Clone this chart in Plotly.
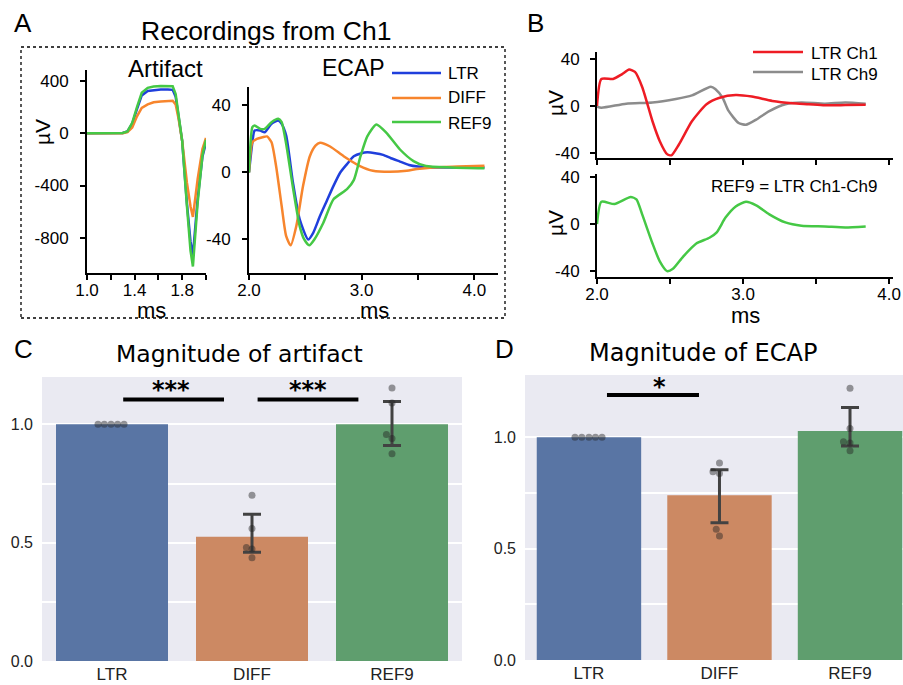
import plotly.graph_objects as go

W, H = 903, 685

# ---------------- DATA ----------------
# Panel A - artifact (ms, uV)
t_art = [1.00, 1.20, 1.30, 1.34, 1.38, 1.42, 1.46, 1.51, 1.56, 1.62, 1.68, 1.72, 1.745, 1.77, 1.80, 1.84, 1.87, 1.89, 1.93, 1.97, 2.00]
art_ltr = [0, 0, 2, 14, 75, 185, 290, 325, 332, 335, 336, 333, 280, 140, -60, -540, -830, -935, -500, -180, -70]
art_diff = [0, 0, 1, 10, 45, 130, 195, 222, 238, 244, 248, 250, 220, 110, -60, -380, -560, -640, -350, -120, -36]
art_ref9 = [0, 0, 2, 15, 80, 200, 310, 348, 358, 362, 363, 360, 300, 150, -60, -560, -900, -1020, -530, -170, -50]

# Panel A - ECAP (ms, uV)
t_ltr = [2.00, 2.03, 2.05, 2.10, 2.14, 2.20, 2.26, 2.29, 2.33, 2.39, 2.45, 2.525, 2.57, 2.63, 2.69, 2.75, 2.81, 2.87, 2.93, 3.00, 3.05, 3.12, 3.19, 3.26, 3.34, 3.42, 3.50, 3.60, 3.80, 4.09]
ecap_ltr = [0, 18, 25, 25, 24, 29, 31, 29, 22, -6, -28, -40, -36, -26, -17, -8, 0, 5, 9.7, 11.5, 12, 11.5, 10.5, 8.5, 6.5, 4.5, 3.5, 3, 3, 3]
t_diff = [2.00, 2.03, 2.07, 2.12, 2.16, 2.20, 2.24, 2.29, 2.33, 2.37, 2.42, 2.48, 2.54, 2.59, 2.63, 2.72, 2.84, 2.98, 3.10, 3.25, 3.40, 3.49, 3.63, 3.85, 4.09]
ecap_diff = [0, 18, 20, 21, 21.5, 18, 4, -20, -38, -43.5, -32, -8, 9.7, 16, 17.7, 15.5, 9.7, 4, 1, 0.4, 1, 2, 3, 3.5, 4]
t_ref9 = [2.00, 2.03, 2.05, 2.10, 2.14, 2.20, 2.26, 2.29, 2.33, 2.39, 2.45, 2.49, 2.535, 2.58, 2.66, 2.75, 2.87, 2.93, 2.99, 3.05, 3.13, 3.22, 3.34, 3.46, 3.57, 3.80, 4.09]
ecap_ref9 = [0, 27, 28, 26, 26, 30, 32, 30, 17, -9, -32, -40, -43.5, -40, -30, -16, -10, -4.6, 9.7, 21.5, 28.6, 23.6, 13.7, 6.8, 3.8, 3, 2.5]

# Panel B (ms, uV)
t_ch1 = [2.00, 2.03, 2.11, 2.17, 2.22, 2.26, 2.31, 2.38, 2.43, 2.48, 2.51, 2.56, 2.65, 2.75, 2.84, 2.95, 3.06, 3.20, 3.34, 3.45, 3.56, 3.70, 3.84]
ltr_ch1 = [0, 23, 23, 27, 31, 29, 16, -13, -30, -41, -42, -33, -13, 1.5, 7, 9.3, 8, 4.3, 2.3, 1.5, 0.6, 0.8, 1]
t_ch9 = [2.00, 2.03, 2.20, 2.38, 2.54, 2.65, 2.78, 2.81, 2.86, 2.90, 2.97, 3.02, 3.09, 3.18, 3.29, 3.40, 3.56, 3.70, 3.84]
ltr_ch9 = [-0.5, -1.5, 2, 3, 6, 9, 16.5, 14.5, 7, -4, -14.5, -16, -11.6, -4.3, 1.5, 3, 2, 3, 2]
t_ref = [2.00, 2.03, 2.12, 2.23, 2.27, 2.31, 2.38, 2.43, 2.48, 2.52, 2.59, 2.68, 2.77, 2.82, 2.88, 2.95, 3.02, 3.09, 3.18, 3.29, 3.40, 3.56, 3.70, 3.84]
ref9_b = [0, 19, 17, 23, 21, 8, -16.5, -31.7, -40, -38, -27.6, -16.5, -11.6, -7, 5.5, 15, 19, 16, 8.3, 1.4, -1.4, -2, -2.8, -2]

# Panels C/D - bar summaries
categories = ["LTR", "DIFF", "REF9"]
art_mean = [1.0, 0.525, 1.0]
art_ci_lo = [1.0, 0.46, 0.911]
art_ci_hi = [1.0, 0.62, 1.097]
art_pts = [[1.0, 1.0, 1.0, 1.0, 1.0],
           [0.70, 0.56, 0.48, 0.473, 0.436],
           [1.153, 1.09, 0.957, 0.94, 0.876]]
ecap_mean = [1.0, 0.74, 1.028]
ecap_ci_lo = [1.0, 0.616, 0.961]
ecap_ci_hi = [1.0, 0.855, 1.134]
ecap_pts = [[1.0, 1.0, 1.0, 1.0, 1.0],
            [0.885, 0.845, 0.838, 0.587, 0.557],
            [1.22, 1.04, 0.98, 0.975, 0.94]]

# strip-plot jitter (horizontal offsets, category units)
art_jit = [[-0.10, -0.055, -0.007, 0.04, 0.086],
           [0.0, 0.0, -0.04, 0.0, 0.0],
           [0.0, 0.0, -0.04, 0.0, 0.0]]
ecap_jit = [[-0.107, -0.055, 0.0, 0.05, 0.10],
            [0.0, -0.05, 0.0, -0.025, 0.0],
            [0.0, 0.0, -0.05, 0.0, 0.0]]

# ---------------- STYLE ----------------
C_LTR, C_DIFF, C_REF = "#1f3fdc", "#f7852d", "#45c845"
C_CH1, C_CH9 = "#ee1c24", "#8c8c8c"
BAR_COLS = ["#5975a4", "#cc8963", "#5f9e6e"]
ARIAL = "Liberation Sans, Arial, sans-serif"
DEJA = "DejaVu Sans, sans-serif"


def fx(p):
    return p / W


def fy(p):
    return 1 - p / H


fig = go.Figure()

# Panel A artifact
for t, v, c in [(t_art, art_ltr, C_LTR), (t_art, art_diff, C_DIFF), (t_art, art_ref9, C_REF)]:
    fig.add_trace(go.Scatter(x=t, y=v, mode="lines", line=dict(color=c, width=2.5),
                             xaxis="x", yaxis="y", showlegend=False, hoverinfo="skip"))
# Panel A ECAP
for t, v, c in [(t_ltr, ecap_ltr, C_LTR), (t_diff, ecap_diff, C_DIFF), (t_ref9, ecap_ref9, C_REF)]:
    fig.add_trace(go.Scatter(x=t, y=v, mode="lines", line=dict(color=c, width=2.5, shape="spline", smoothing=0.6),
                             xaxis="x2", yaxis="y2", showlegend=False, hoverinfo="skip"))
# Panel B
fig.add_trace(go.Scatter(x=t_ch9, y=ltr_ch9, mode="lines", line=dict(color=C_CH9, width=2.5, shape="spline", smoothing=0.6),
                         xaxis="x3", yaxis="y3", showlegend=False, hoverinfo="skip"))
fig.add_trace(go.Scatter(x=t_ch1, y=ltr_ch1, mode="lines", line=dict(color=C_CH1, width=2.5, shape="spline", smoothing=0.6),
                         xaxis="x3", yaxis="y3", showlegend=False, hoverinfo="skip"))
fig.add_trace(go.Scatter(x=t_ref, y=ref9_b, mode="lines", line=dict(color=C_REF, width=2.5, shape="spline", smoothing=0.6),
                         xaxis="x4", yaxis="y4", showlegend=False, hoverinfo="skip"))

# Panels C/D bars
for (means, lo, hi, pts, jit, xa, ya) in [
    (art_mean, art_ci_lo, art_ci_hi, art_pts, art_jit, "x5", "y5"),
    (ecap_mean, ecap_ci_lo, ecap_ci_hi, ecap_pts, ecap_jit, "x6", "y6"),
]:
    for i, cat in enumerate(categories):
        has_err = hi[i] - lo[i] > 0
        fig.add_trace(go.Bar(
            x=[i], y=[means[i]], width=0.8, marker=dict(color=BAR_COLS[i], line=dict(width=0)),
            error_y=dict(type="data", symmetric=False, array=[hi[i] - means[i]], arrayminus=[means[i] - lo[i]],
                         color="#424242", thickness=3, width=9, visible=has_err),
            xaxis=xa, yaxis=ya, showlegend=False, hoverinfo="skip"))
    xs, ys = [], []
    for i in range(len(categories)):
        for v, j in zip(pts[i], jit[i]):
            xs.append(i + j)
            ys.append(v)
    fig.add_trace(go.Scatter(x=xs, y=ys, mode="markers",
                             marker=dict(color="rgba(35,35,35,0.45)", size=7, line=dict(width=0)),
                             xaxis=xa, yaxis=ya, showlegend=False, hoverinfo="skip"))

line_ax = dict(showline=True, linecolor="black", linewidth=2, ticks="outside", ticklen=5, tickwidth=1.5,
               tickcolor="black", showgrid=False, zeroline=False, automargin=False,
               tickfont=dict(family=ARIAL, size=17, color="black"), fixedrange=True)
bar_x = dict(showline=False, ticks="", showgrid=False, zeroline=False, tickvals=[0, 1, 2], ticktext=categories,
             tickfont=dict(family=ARIAL, size=17, color="#222"), ticklabelstandoff=1, automargin=False)
bar_y = dict(showline=False, ticks="", showgrid=True, gridcolor="white", gridwidth=1.5, zeroline=False,
             tickvals=[0, 0.25, 0.5, 0.75, 1.0], ticktext=["0.0", "", "0.5", "", "1.0"],
             tickfont=dict(family=ARIAL, size=16, color="#222"), ticklabelstandoff=8, automargin=False)

XSO = -4  # x tick label standoff for line panels

fig.update_layout(
    width=W, height=H, autosize=False, margin=dict(l=0, r=0, t=0, b=0),
    paper_bgcolor="white", plot_bgcolor="white", barmode="overlay",
    xaxis=dict(line_ax, domain=[fx(87), fx(206)], range=[1.0, 2.0], anchor="y",
               tickvals=[1.0, 1.2, 1.4, 1.6, 1.8, 2.0], ticktext=["1.0", "", "1.4", "", "1.8", ""], ticklabelstandoff=XSO),
    yaxis=dict(line_ax, domain=[fy(273), fy(70)], range=[-1070, 485], anchor="x",
               tickvals=[400, 0, -400, -800], ticktext=["400", "0", "-400", "-800"], ticklabelstandoff=8),
    xaxis2=dict(line_ax, domain=[fx(249), fx(498)], range=[2.0, 4.21], anchor="y2",
                tickvals=[2, 2.5, 3, 3.5, 4], ticktext=["2.0", "", "3.0", "", "4.0"], ticklabelstandoff=XSO),
    yaxis2=dict(line_ax, domain=[fy(273), fy(87)], range=[-60, 51], anchor="x2",
                tickvals=[40, 0, -40], ticktext=["40", "0", "-40"], ticklabelstandoff=8),
    xaxis3=dict(line_ax, domain=[fx(597), fx(893)], range=[2.0, 4.027], anchor="y3",
                tickvals=[2, 2.5, 3, 3.5, 4], showticklabels=False),
    yaxis3=dict(line_ax, domain=[fy(158), fy(52)], range=[-44.3, 46], anchor="x3",
                tickvals=[40, 0, -40], ticktext=["40", "0", "-40"], ticklabelstandoff=7),
    xaxis4=dict(line_ax, domain=[fx(597), fx(893)], range=[2.0, 4.027], anchor="y4",
                tickvals=[2, 2.5, 3, 3.5, 4], ticktext=["2.0", "", "3.0", "", "4.0"], ticklabelstandoff=XSO),
    yaxis4=dict(line_ax, domain=[fy(277), fy(174)], range=[-45, 42.6], anchor="x4",
                tickvals=[40, 0, -40], ticktext=["40", "0", "-40"], ticklabelstandoff=7),
    xaxis5=dict(bar_x, domain=[fx(42), fx(462)], range=[-0.5, 2.5], anchor="y5"),
    yaxis5=dict(bar_y, domain=[fy(661), fy(377)], range=[0, 1.2], anchor="x5"),
    xaxis6=dict(bar_x, domain=[fx(525), 1.0], range=[-0.49, 2.406], anchor="y6"),
    yaxis6=dict(bar_y, domain=[fy(660), fy(375)], range=[0, 1.28], anchor="x6"),
)

shapes = []
# seaborn-like backgrounds
for xa, ya in [("x5", "y5"), ("x6", "y6")]:
    shapes.append(dict(type="rect", xref=f"{xa} domain", yref=f"{ya} domain", x0=0, x1=1, y0=0, y1=1,
                       fillcolor="#eaeaf2", line=dict(width=0), layer="below"))
# dotted frame around panel A
shapes.append(dict(type="rect", xref="paper", yref="paper", x0=fx(21), x1=fx(505), y0=fy(318), y1=fy(47),
                   line=dict(color="black", width=1.3, dash="dot"), fillcolor="rgba(0,0,0,0)"))
# significance bars
shapes.append(dict(type="line", xref="x5", yref="y5", x0=0.08, x1=0.80, y0=1.105, y1=1.105,
                   line=dict(color="black", width=4)))
shapes.append(dict(type="line", xref="x5", yref="y5", x0=1.04, x1=1.76, y0=1.105, y1=1.105,
                   line=dict(color="black", width=4)))
shapes.append(dict(type="line", xref="x6", yref="y6", x0=0.138, x1=0.843, y0=1.19, y1=1.19,
                   line=dict(color="black", width=4)))
# legend swatches
for yy, c in [(73, C_LTR), (98, C_DIFF), (122, C_REF)]:
    shapes.append(dict(type="line", xref="paper", yref="paper", x0=fx(392), x1=fx(441), y0=fy(yy), y1=fy(yy),
                       line=dict(color=c, width=2.5)))
for yy, c in [(52, C_CH1), (72, C_CH9)]:
    shapes.append(dict(type="line", xref="paper", yref="paper", x0=fx(753), x1=fx(803), y0=fy(yy), y1=fy(yy),
                       line=dict(color=c, width=2.5)))
fig.update_layout(shapes=shapes)

ann = []


def txt(x, y, s, size, family=ARIAL, xanchor="center", angle=0, bold=False):
    if bold:
        s = f"<b>{s}</b>"
    ann.append(dict(xref="paper", yref="paper", x=fx(x), y=fy(y), text=s, showarrow=False,
                    xanchor=xanchor, yanchor="middle", textangle=angle,
                    font=dict(family=family, size=size, color="black")))


txt(23, 23, "A", 26)
txt(535, 23, "B", 26)
txt(23, 349, "C", 26)
txt(504, 349, "D", 26)
txt(266, 31, "Recordings from Ch1", 26.5)
txt(165, 68, "Artifact", 24)
txt(353, 68, "ECAP", 23)
txt(446, 73, "LTR", 17, xanchor="left")
txt(446, 98, "DIFF", 17, xanchor="left")
txt(446, 123, "REF9", 17, xanchor="left")
txt(809, 53, "LTR Ch1", 17, xanchor="left")
txt(809, 74, "LTR Ch9", 17, xanchor="left")
txt(794, 187, "REF9 = LTR Ch1-Ch9", 17)
txt(43, 132, "µV", 21, angle=-90)
txt(555, 103, "µV", 21, angle=-90)
txt(555, 223, "µV", 21, angle=-90)
txt(151, 310, "ms", 22)
txt(374, 310, "ms", 22)
txt(745, 315, "ms", 22)
txt(239, 354, "Magnitude of artifact", 23.5, family=DEJA)
txt(703, 353, "Magnitude of ECAP", 24, family=DEJA)
txt(171, 390, "***", 24, family=DEJA, bold=True)
txt(308, 390, "***", 24, family=DEJA, bold=True)
txt(659, 387, "*", 24, family=DEJA, bold=True)
fig.update_layout(annotations=ann)

fig.write_html("out.html")
